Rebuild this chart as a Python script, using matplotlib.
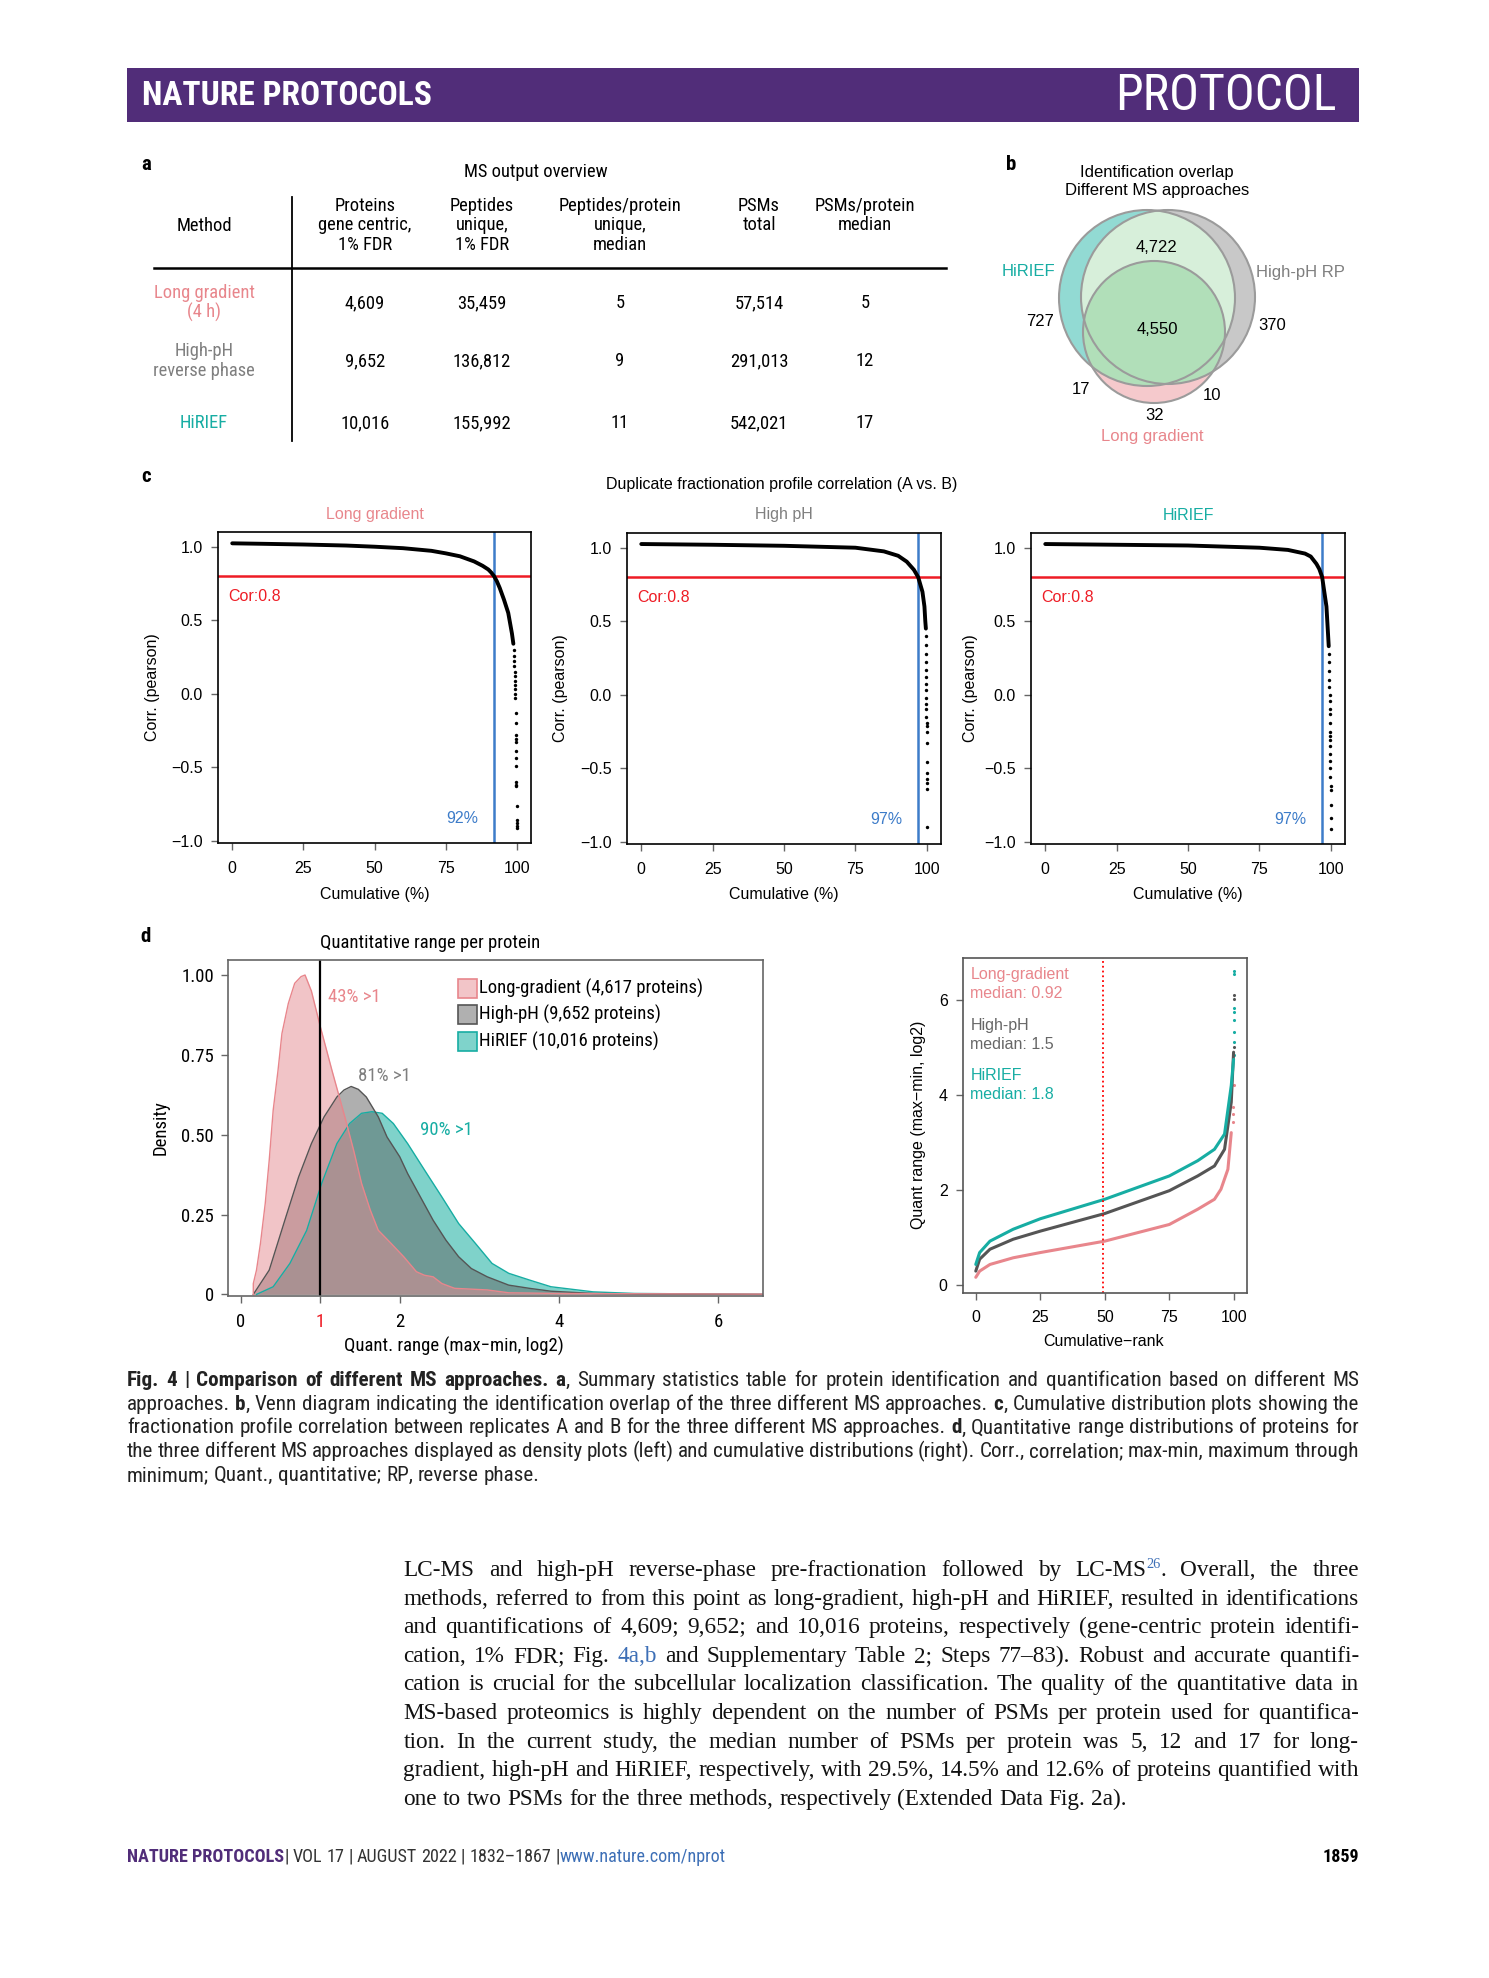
import matplotlib
matplotlib.use('Agg')
import matplotlib.pyplot as plt
from matplotlib import font_manager as fm
from matplotlib.patches import Circle, Rectangle

W, H = 1489, 1978

# ---------------- data ----------------
# panel a: summary table
methods = ['Long gradient\n(4 h)', 'High-pH\nreverse phase', 'HiRIEF']
col_heads = ['Method', 'Proteins\ngene centric,\n1% FDR', 'Peptides\nunique,\n1% FDR',
             'Peptides/protein\nunique,\nmedian', 'PSMs\ntotal', 'PSMs/protein\nmedian']
proteins = [4609, 9652, 10016]
peptides = [35459, 136812, 155992]
pep_per_prot = [5, 9, 11]
psms_total = [57514, 291013, 542021]
psms_per_prot = [5, 12, 17]

# panel b: venn counts
venn_sets = ['HiRIEF', 'High-pH RP', 'Long gradient']
venn_regions = ['HiRIEF & High-pH', 'all three', 'HiRIEF only', 'High-pH only',
                'HiRIEF & LG', 'High-pH & LG', 'LG only']
venn_counts = [4722, 4550, 727, 370, 17, 10, 32]

# panel c: sorted profile correlation (cumulative %, pearson r)
lg_cum = [0, 10, 25, 40, 50, 60, 70, 75, 80, 85, 88, 90, 91, 92, 93, 94, 95.5, 97, 98.3, 98.8]
lg_cor = [1.023, 1.02, 1.015, 1.008, 1.0, 0.99, 0.972, 0.955, 0.935, 0.90, 0.87, 0.845, 0.825,
          0.80, 0.765, 0.72, 0.64, 0.55, 0.41, 0.34]
lg_tail_cum = [99.0, 99.1, 99.15, 99.2, 99.25, 99.3, 99.35, 99.4, 99.45, 99.5, 99.55, 99.6,
               99.65, 99.7, 99.72, 99.75, 99.78, 99.8, 99.82, 99.85, 99.87, 99.9, 99.92,
               99.94, 99.96, 99.98, 99.99]
lg_tail_cor = [0.30, 0.26, 0.22, 0.19, 0.15, 0.12, 0.09, 0.06, 0.03, 0.0, -0.03, -0.13,
               -0.20, -0.28, -0.31, -0.33, -0.39, -0.44, -0.49, -0.60, -0.62, -0.63, -0.76,
               -0.86, -0.88, -0.90, -0.91]

hp_cum = [0, 25, 50, 75, 85, 90, 93, 95.5, 97, 98.5, 99.2, 99.5, 99.7]
hp_cor = [1.025, 1.02, 1.013, 1.0, 0.975, 0.945, 0.905, 0.85, 0.80, 0.70, 0.60, 0.50, 0.45]
hp_tail_cum = [99.75, 99.78, 99.8, 99.82, 99.84, 99.86, 99.87, 99.88, 99.89, 99.9, 99.91,
               99.92, 99.93, 99.94, 99.95, 99.96, 99.965, 99.97, 99.975, 99.98, 99.985, 99.99]
hp_tail_cor = [0.40, 0.34, 0.28, 0.22, 0.17, 0.12, 0.07, 0.03, -0.02, -0.06, -0.10, -0.15,
               -0.19, -0.21, -0.25, -0.33, -0.46, -0.53, -0.57, -0.60, -0.64, -0.90]

hi_cum = [0, 25, 50, 75, 85, 91, 93, 95, 96, 97, 98.5, 99.3]
hi_cor = [1.025, 1.02, 1.015, 1.0, 0.985, 0.96, 0.94, 0.89, 0.855, 0.80, 0.60, 0.33]
hi_tail_cum = [99.35, 99.4, 99.45, 99.5, 99.55, 99.6, 99.65, 99.7, 99.72, 99.75, 99.78, 99.8,
               99.82, 99.84, 99.86, 99.88, 99.9, 99.92, 99.94, 99.96, 99.98, 99.99, 99.995]
hi_tail_cor = [0.28, 0.22, 0.16, 0.10, 0.05, 0.0, -0.04, -0.10, -0.13, -0.19, -0.25, -0.28,
               -0.31, -0.35, -0.40, -0.45, -0.50, -0.56, -0.62, -0.65, -0.75, -0.84, -0.91]

corr_cutoff = 0.8
pct_above = [92, 97, 97]

# panel d left: density of quant range
lg_dx = [0.16, 0.16, 0.20, 0.25, 0.31, 0.36, 0.41, 0.47, 0.52, 0.60, 0.68, 0.76, 0.81, 0.89,
         1.00, 1.15, 1.31, 1.42, 1.52, 1.63, 1.73, 1.89, 2.05, 2.21, 2.31, 2.42, 2.53, 2.69,
         3.10, 3.37, 4.0, 5.0, 6.6]
lg_dy = [0, 0.034, 0.076, 0.16, 0.285, 0.42, 0.577, 0.70, 0.817, 0.911, 0.974, 0.995, 1.0,
         0.95, 0.84, 0.70, 0.556, 0.452, 0.348, 0.264, 0.201, 0.16, 0.118, 0.071, 0.06, 0.055,
         0.034, 0.019, 0.014, 0.005, 0.003, 0.002, 0.001]
hp_dx = [0.16, 0.36, 0.57, 0.73, 0.89, 1.05, 1.21, 1.30, 1.39, 1.48, 1.58, 1.73, 1.84, 2.0,
         2.1, 2.26, 2.42, 2.58, 2.74, 2.9, 3.1, 3.37, 3.63, 3.9, 4.43, 5.0, 6.6]
hp_dy = [0, 0.076, 0.243, 0.368, 0.472, 0.556, 0.618, 0.640, 0.651, 0.642, 0.618, 0.556, 0.493,
         0.431, 0.378, 0.305, 0.232, 0.17, 0.118, 0.081, 0.055, 0.029, 0.019, 0.01, 0.003,
         0.001, 0]
hi_dx = [0.2, 0.41, 0.62, 0.83, 1.02, 1.21, 1.37, 1.52, 1.65, 1.78, 1.92, 2.1, 2.31, 2.53,
         2.74, 2.95, 3.16, 3.37, 3.63, 3.9, 4.43, 4.95, 6.6]
hi_dy = [0, 0.024, 0.097, 0.2, 0.348, 0.472, 0.535, 0.567, 0.572, 0.567, 0.535, 0.472, 0.39,
         0.305, 0.222, 0.16, 0.097, 0.066, 0.045, 0.024, 0.008, 0.003, 0]
dens_labels = ['Long-gradient (4,617 proteins)', 'High-pH (9,652 proteins)',
               'HiRIEF (10,016 proteins)']
frac_above1 = ['43% >1', '81% >1', '90% >1']

# panel d right: cumulative rank of quant range
lg_rank = [0, 1.5, 5.5, 14.5, 25, 50, 75, 86, 92.5, 95, 97.7, 99]
lg_q = [0.17, 0.30, 0.44, 0.58, 0.69, 0.93, 1.28, 1.60, 1.81, 2.02, 2.44, 3.21]
hp_rank = [0, 1.5, 5.5, 14.5, 25, 50, 75, 86, 92.5, 96.4, 99, 99.9]
hp_q = [0.30, 0.55, 0.76, 0.97, 1.14, 1.51, 1.99, 2.30, 2.51, 2.86, 3.85, 4.90]
hi_rank = [0, 1.5, 5.5, 14.5, 25, 50, 75, 86, 92.5, 96.4, 99, 99.9]
hi_q = [0.44, 0.69, 0.93, 1.18, 1.40, 1.81, 2.30, 2.62, 2.86, 3.18, 4.20, 4.75]
lg_tail_rank = [99.6, 99.7, 99.8, 99.9]
lg_tail_q = [3.44, 3.61, 3.75, 4.21]
hp_tail_rank = [99.9, 99.9, 99.9]
hp_tail_q = [5.02, 6.01, 6.1]
hi_tail_rank = [99.9, 99.9, 99.9, 99.9, 99.9, 99.9, 99.9, 99.9]
hi_tail_q = [4.84, 5.12, 5.33, 5.58, 5.75, 5.82, 6.55, 6.6]
medians = [0.92, 1.5, 1.8]

# ---------------- style ----------------
names = {f.name for f in fm.fontManager.ttflist}
NARROW = 'Liberation Sans'
for cand in ['Liberation Sans Narrow', 'Roboto Condensed', 'Open Sans Condensed',
             'Noto Sans Condensed', 'DejaVu Sans Condensed']:
    if cand in names:
        NARROW = cand
        break
SANS = 'Liberation Sans'
SERIF = 'Liberation Serif'
plt.rcParams['font.family'] = SANS

PINK = '#E8868C'
GREY = '#7F7F7F'
TEAL = '#17ADA3'
PURPLE = '#512D79'
RED = '#EE1C25'
BLUE = '#3D7CC9'

LEFT, RIGHT = 127, 1359

fig = plt.figure(figsize=(W / 100, H / 100), dpi=100)
page = fig.add_axes([0, 0, 1, 1])
page.set_xlim(0, W)
page.set_ylim(H, 0)
page.axis('off')
rend = fig.canvas.get_renderer()


def pxax(x0, y0, x1, y1):
    a = fig.add_axes([x0 / W, 1 - y1 / H, (x1 - x0) / W, (y1 - y0) / H])
    a.patch.set_alpha(0)
    return a


def width_of(s, **kw):
    t = page.text(0, 0, s, **kw)
    w = t.get_window_extent(rend).width
    t.remove()
    return w


def fit_size(s, target, **kw):
    return 10 * target / width_of(s, fontsize=10, **kw)


def split_words(pieces):
    words = [[]]
    for txt, st in pieces:
        parts = txt.split(' ')
        for i, p in enumerate(parts):
            if i > 0:
                words.append([])
            if p:
                words[-1].append((p, st))
    return [w for w in words if w]


def piece_kw(base, styles, st):
    kw = dict(base)
    kw.update(styles.get(st, {}))
    dy = kw.pop('dy', 0)
    return kw, dy


def put_line(pieces, x0, x1, y, base, styles, justify=True):
    words = split_words(pieces)
    widths = [[width_of(p, **piece_kw(base, styles, st)[0]) for p, st in w] for w in words]
    total = sum(sum(ws) for ws in widths)
    space = width_of('a a', **base) - width_of('aa', **base)
    gap = (x1 - x0 - total) / (len(words) - 1) if (justify and len(words) > 1) else space
    x = x0
    for w, ws in zip(words, widths):
        for (p, st), pw in zip(w, ws):
            kw, dy = piece_kw(base, styles, st)
            page.text(x, y + dy, p, ha='left', va='baseline', **kw)
            x += pw
        x += gap


def natural_width(pieces, base, styles):
    words = split_words(pieces)
    total = sum(width_of(p, **piece_kw(base, styles, st)[0]) for w in words for p, st in w)
    space = width_of('a a', **base) - width_of('aa', **base)
    return total + space * (len(words) - 1)


# ---------------- header bar ----------------
page.add_patch(Rectangle((LEFT, 68), RIGHT - LEFT, 54, fc=PURPLE, ec='none'))
s = fit_size('NATURE PROTOCOLS', 290, family=NARROW, fontweight='bold')
page.text(142, 96, 'NATURE PROTOCOLS', color='white', family=NARROW, fontweight='bold',
          fontsize=s, va='center')
s = fit_size('PROTOCOL', 222, family=NARROW)
page.text(1337, 96, 'PROTOCOL', color='white', family=NARROW, fontsize=s, ha='right',
          va='center')

# ---------------- panel labels ----------------
for lab, x, y in [('a', 146, 165), ('b', 1011, 165), ('c', 146, 477), ('d', 146, 937)]:
    page.text(x, y, lab, family=NARROW, fontweight='bold', fontsize=15, ha='center', va='center')

# ---------------- panel a: table ----------------
TS = 13.3
col_x = [204, 365, 482, 620, 759, 865]
page.text(536, 172, 'MS output overview', family=NARROW, fontsize=TS, ha='center', va='center')
for cx, head in zip(col_x, col_heads):
    lines = head.split('\n')
    if head == 'Method':
        ys = [226]
    else:
        ys = [206 + 19.5 * i for i in range(len(lines))]
    for ln, yy in zip(lines, ys):
        page.text(cx, yy, ln, family=NARROW, fontsize=TS, ha='center', va='center')
page.plot([292, 292], [197, 441], color='black', lw=1.3)
page.plot([154, 946], [268, 268], color='black', lw=1.8)

row_y = [303, 361, 423]
row_col = [PINK, GREY, TEAL]
for i, (m, yy, c) in enumerate(zip(methods, row_y, row_col)):
    lines = m.split('\n')
    off = [(k - (len(lines) - 1) / 2) * 19.5 for k in range(len(lines))]
    for ln, o in zip(lines, off):
        page.text(col_x[0], yy + o, ln, family=NARROW, fontsize=TS, ha='center', va='center',
                  color=c)
    vals = [f'{proteins[i]:,}', f'{peptides[i]:,}', f'{pep_per_prot[i]}',
            f'{psms_total[i]:,}', f'{psms_per_prot[i]}']
    for cx, v in zip(col_x[1:], vals):
        page.text(cx, yy, v, family=NARROW, fontsize=TS, ha='center', va='center')

# ---------------- panel b: venn ----------------
hi_c, hi_r = (1147, 298), 88
hp_c, hp_r = (1168, 297), 87
lg_c, lg_r = (1154, 332), 71

page.add_patch(Circle(hi_c, hi_r, fc='#92DAD3', ec='none'))
page.add_patch(Circle(hp_c, hp_r, fc='#C8C8C8', ec='none'))
p = Circle(hp_c, hp_r, fc='#D7EFDA', ec='none')
page.add_patch(p)
p.set_clip_path(Circle(hi_c, hi_r, transform=page.transData))
page.add_patch(Circle(lg_c, lg_r, fc='#F5C9CC', ec='none'))
for cc, rr in [(hi_c, hi_r), (hp_c, hp_r)]:
    p = Circle(lg_c, lg_r, fc='#B1DFB9', ec='none')
    page.add_patch(p)
    p.set_clip_path(Circle(cc, rr, transform=page.transData))
for cc, rr in [(hi_c, hi_r), (hp_c, hp_r), (lg_c, lg_r)]:
    page.add_patch(Circle(cc, rr, fc='none', ec='#9B9B9B', lw=1.5))

VS = 12
page.text(1157, 173, 'Identification overlap', fontsize=VS, ha='center', va='center')
page.text(1157, 191, 'Different MS approaches', fontsize=VS, ha='center', va='center')
count_pos = [(1157, 247), (1157, 330), (1040, 322), (1272, 326), (1081, 389), (1212, 396),
             (1155, 416)]
for (x, y), n in zip(count_pos, venn_counts):
    page.text(x, y, f'{n:,}', fontsize=VS, ha='center', va='center')
for (x, y), name, c in zip([(1028, 272), (1300, 272), (1152, 436)], venn_sets,
                           [TEAL, GREY, PINK]):
    page.text(x, y, name, fontsize=VS, ha='center', va='center', color=c)

# ---------------- panel c: correlation ----------------
page.text(782, 485, 'Duplicate fractionation profile correlation (A vs. B)', fontsize=11.5,
          ha='center', va='center')

CS = 11.5
corr_sets = [
    ((218, 532, 531, 843), lg_cum, lg_cor, lg_tail_cum, lg_tail_cor, 'Long gradient', PINK, 153),
    ((627, 533, 941, 844), hp_cum, hp_cor, hp_tail_cum, hp_tail_cor, 'High pH', GREY, 561),
    ((1031, 533, 1345, 844), hi_cum, hi_cor, hi_tail_cum, hi_tail_cor, 'HiRIEF', TEAL, 970),
]
for (box, cx, cy, tx, ty, title, tc, ylx), cut in zip(corr_sets, pct_above):
    x0, y0, x1, y1 = box
    ax = pxax(*box)
    ax.plot(cx, cy, color='black', lw=2.8, solid_capstyle='round', solid_joinstyle='round',
            zorder=3)
    ax.scatter(tx, ty, s=6, color='black', linewidths=0, zorder=3)
    ax.axhline(corr_cutoff, color=RED, lw=1.8, zorder=2)
    ax.axvline(cut, color=BLUE, lw=1.8, zorder=2)
    ax.text(-1.5, 0.66, f'Cor:{corr_cutoff}', color=RED, fontsize=CS, va='center')
    ax.text(cut - 5.5, -0.85, f'{cut}%', color=BLUE, fontsize=CS, va='center', ha='right')
    ax.set_xlim(-5, 105)
    ax.set_ylim(-1.015, 1.10)
    ax.set_xticks([0, 25, 50, 75, 100])
    ax.set_yticks([-1, -0.5, 0, 0.5, 1])
    ax.set_yticklabels(['\u22121.0', '\u22120.5', '0.0', '0.5', '1.0'])
    ax.tick_params(direction='out', length=5, width=1, color='#666666', labelsize=CS, pad=6)
    ax.tick_params(axis='x', pad=8)
    for sp in ax.spines.values():
        sp.set_linewidth(1.2)
    page.text((x0 + x1) / 2, 515, title, color=tc, fontsize=CS, ha='center', va='center')
    page.text(ylx, (y0 + y1) / 2, 'Corr. (pearson)', rotation=90, fontsize=CS, ha='center',
              va='center')
    page.text((x0 + x1) / 2, 895, 'Cumulative (%)', fontsize=CS, ha='center', va='center')

# ---------------- panel d left: density ----------------
DS = 13.5
page.text(430, 943, 'Quantitative range per protein', family=NARROW, fontsize=DS, ha='center',
          va='center')
for yy, lab, fc, ec in zip([988, 1014, 1041], dens_labels, ['#F2C5C8', '#B0B0B0', '#7FD3CB'],
                           [PINK, '#555555', TEAL]):
    page.add_patch(Rectangle((458, yy - 9.5), 19, 19, fc=fc, ec=ec, lw=1.2))
    page.text(479, yy, lab, family=NARROW, fontsize=DS, va='center')
ax = pxax(228, 960, 763, 1296)
fills = [('#00A797', TEAL, hi_dx, hi_dy), ('#616161', '#555555', hp_dx, hp_dy),
         ('#E58B91', PINK, lg_dx, lg_dy)]
for fc, ec, x, y in fills:
    ax.fill_between(x, y, color=fc, alpha=0.5, linewidth=0)
    ax.plot(x, y, color=ec, lw=1.0)
ax.axvline(1, color='black', lw=1.6)
ax.set_xlim(-0.158, 6.565)
ax.set_ylim(-0.005, 1.047)
ax.set_xticks([0, 1, 2, 4, 6])
ax.set_xticklabels(['0', '1', '2', '4', '6'], family=NARROW)
ax.get_xticklabels()[1].set_color(RED)
ax.set_yticks([0, 0.25, 0.5, 0.75, 1.0])
ax.set_yticklabels(['0', '0.25', '0.50', '0.75', '1.00'], family=NARROW)
ax.tick_params(direction='out', length=5, width=1, color='#666666', labelsize=DS, pad=5)
ax.tick_params(axis='x', pad=7)
for sp in ax.spines.values():
    sp.set_color('#666666')
    sp.set_linewidth(1.2)
for (x, y), lab, c in zip([(1.10, 0.93), (1.47, 0.685), (2.26, 0.515)], frac_above1,
                          [PINK, GREY, TEAL]):
    ax.text(x, y, lab, color=c, family=NARROW, fontsize=DS, va='center')
page.text(161, 1128, 'Density', family=NARROW, fontsize=DS, rotation=90, ha='center',
          va='center')
page.text(454, 1346, 'Quant. range (max\u2212min, log2)', family=NARROW, fontsize=DS,
          ha='center', va='center')

# ---------------- panel d right: cumulative rank ----------------
ax = pxax(963, 958, 1247, 1293)
for x, y, tx, ty, c in [(lg_rank, lg_q, lg_tail_rank, lg_tail_q, PINK),
                        (hp_rank, hp_q, hp_tail_rank, hp_tail_q, '#555555'),
                        (hi_rank, hi_q, hi_tail_rank, hi_tail_q, TEAL)]:
    ax.plot(x, y, color=c, lw=2.2, solid_capstyle='round', solid_joinstyle='round')
    ax.scatter(tx, ty, s=5, color=c, linewidths=0)
ax.axvline(49.3, color='red', ls=':', lw=1.3)
ax.set_xlim(-4.95, 105.1)
ax.set_ylim(-0.16, 6.88)
ax.set_xticks([0, 25, 50, 75, 100])
ax.set_yticks([0, 2, 4, 6])
ax.tick_params(direction='out', length=5, width=1, color='#666666', labelsize=CS, pad=6)
ax.tick_params(axis='x', pad=7)
for sp in ax.spines.values():
    sp.set_color('#555555')
    sp.set_linewidth(1.2)
for (y1, y2), name, med, c in zip([(6.54, 6.13), (5.46, 5.07), (4.42, 4.01)],
                                  ['Long-gradient', 'High-pH', 'HiRIEF'], medians,
                                  [PINK, '#666666', TEAL]):
    ax.text(-2.1, y1, name, color=c, fontsize=CS, va='center')
    ax.text(-2.1, y2, f'median: {med}', color=c, fontsize=CS, va='center')
page.text(918, 1125, 'Quant range (max\u2212min, log2)', fontsize=CS, rotation=90,
          ha='center', va='center')
page.text(1104, 1341, 'Cumulative\u2212rank', fontsize=CS, ha='center', va='center')

# ---------------- caption ----------------
cap_lines = [
    [('Fig. 4 | Comparison of different MS approaches. a', 'b'),
     (', Summary statistics table for protein identification and quantification based on '
      'different MS', 'n')],
    [('approaches. ', 'n'), ('b', 'b'),
     (', Venn diagram indicating the identification overlap of the three different MS '
      'approaches. ', 'n'), ('c', 'b'), (', Cumulative distribution plots showing the', 'n')],
    [('fractionation profile correlation between replicates A and B for the three different '
      'MS approaches. ', 'n'), ('d', 'b'),
     (', Quantitative range distributions of proteins for', 'n')],
    [('the three different MS approaches displayed as density plots (left) and cumulative '
      'distributions (right). Corr., correlation; max-min, maximum through', 'n')],
    [('minimum; Quant., quantitative; RP, reverse phase.', 'n')],
]
cap_styles = {'n': {}, 'b': {'fontweight': 'bold'}}
base = {'family': NARROW, 'fontsize': 10, 'color': '#222222'}
widest = max(natural_width(l, base, cap_styles) for l in cap_lines[:4])
base['fontsize'] = 10 * (RIGHT - LEFT - 2) / widest
for i, l in enumerate(cap_lines):
    put_line(l, LEFT, RIGHT, 1386 + 23.7 * i, base, cap_styles, justify=(i < 4))

# ---------------- body text ----------------
body_lines = [
    [('LC-MS and high-pH reverse-phase pre-fractionation followed by LC-MS', 'n'),
     ('26', 'sup'), ('. Overall, the three', 'n')],
    [('methods, referred to from this point as long-gradient, high-pH and HiRIEF, resulted in '
      'identifications', 'n')],
    [('and quantifications of 4,609; 9,652; and 10,016 proteins, respectively (gene-centric '
      'protein identifi-', 'n')],
    [('cation, 1% FDR; Fig. ', 'n'), ('4a,b', 'blue'),
     (' and Supplementary Table 2; Steps 77\u201383). Robust and accurate quantifi-', 'n')],
    [('cation is crucial for the subcellular localization classification. The quality of the '
      'quantitative data in', 'n')],
    [('MS-based proteomics is highly dependent on the number of PSMs per protein used for '
      'quantifica-', 'n')],
    [('tion. In the current study, the median number of PSMs per protein was 5, 12 and 17 for '
      'long-', 'n')],
    [('gradient, high-pH and HiRIEF, respectively, with 29.5%, 14.5% and 12.6% of proteins '
      'quantified with', 'n')],
    [('one to two PSMs for the three methods, respectively (Extended Data Fig. 2a).', 'n')],
]
BL = 403.5
base_b = {'family': SERIF, 'fontsize': 10, 'color': '#111111'}
widest = max(natural_width(l, base_b, {}) for l in body_lines[:8])
fs = 10 * (RIGHT - BL - 1) / widest
base_b['fontsize'] = fs
body_styles = {'n': {}, 'blue': {'color': '#3D6FB6'},
               'sup': {'color': '#3D6FB6', 'fontsize': fs * 0.62, 'dy': -8}}
for i, l in enumerate(body_lines):
    put_line(l, BL, RIGHT, 1576 + 28.6 * i, base_b, body_styles, justify=(i < 8))

# ---------------- footer ----------------
foot = [('NATURE PROTOCOLS', 'p'), ('| VOL 17 | AUGUST 2022 | 1832\u20131867 |', 'n'),
        ('www.nature.com/nprot', 'u')]
foot_styles = {'p': {'color': PURPLE, 'fontweight': 'bold'}, 'n': {'color': '#333333'},
               'u': {'color': '#3D6FB6'}}
base_f = {'family': NARROW, 'fontsize': 10}
fw = natural_width(foot, base_f, foot_styles)
base_f['fontsize'] = 10 * 598 / fw
put_line(foot, LEFT, 725, 1862, base_f, foot_styles, justify=False)
page.text(RIGHT, 1862, '1859', family=NARROW, fontweight='bold', fontsize=base_f['fontsize'],
          ha='right', va='baseline')

fig.savefig('out.png', dpi=100)
